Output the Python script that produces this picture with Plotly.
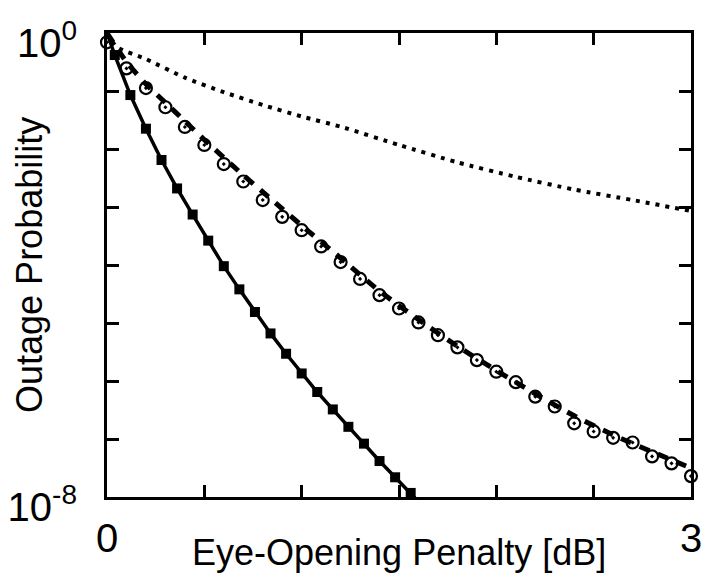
import plotly.graph_objects as go

# ---- data (log10 of outage probability) ----
sq_x = [0.04, 0.12, 0.20, 0.28, 0.36, 0.44, 0.52, 0.60, 0.68, 0.76,
        0.84, 0.92, 1.00, 1.08, 1.16, 1.24, 1.32, 1.40, 1.48, 1.56]
sq_log = [-0.38, -1.07, -1.65, -2.19, -2.68, -3.13, -3.58, -4.02, -4.42, -4.81,
          -5.18, -5.53, -5.87, -6.19, -6.49, -6.79, -7.08, -7.38, -7.66, -7.93]

solid_x = [0.0] + sq_x + [1.62]
solid_log = [0.0] + sq_log + [-8.15]

circ_x = [round(0.1 * i, 1) for i in range(31)]
circ_log = [-0.16, -0.61, -0.95, -1.28, -1.62, -1.93, -2.26, -2.56, -2.88, -3.17,
            -3.40, -3.68, -3.95, -4.24, -4.52, -4.75, -4.99, -5.21, -5.42, -5.64,
            -5.84, -6.02, -6.27, -6.44, -6.73, -6.87, -6.98, -7.06, -7.30, -7.42,
            -7.64]

dash_x = [0.0, 0.1, 0.2, 0.3, 0.4, 0.5, 0.6, 0.7, 0.8, 0.9, 1.0, 1.2, 1.4, 1.6,
          1.8, 2.0, 2.2, 2.4, 2.6, 2.8, 3.0]
dash_log = [0.0, -0.50, -0.88, -1.20, -1.52, -1.84, -2.15, -2.45, -2.74, -3.03,
            -3.32, -3.88, -4.45, -4.94, -5.40, -5.82, -6.22, -6.60, -6.93, -7.22,
            -7.50]

dot_x = [0.0, 0.05, 0.2, 0.4, 0.6, 0.8, 1.0, 1.2, 1.5, 1.8, 2.1, 2.4, 2.7, 3.0]
dot_log = [0.0, -0.24, -0.45, -0.77, -1.02, -1.24, -1.44, -1.615, -1.93, -2.23,
           -2.48, -2.70, -2.88, -3.07]

y_tickvals_log = [0, -1, -2, -3, -4, -5, -6, -7, -8]
y_ticktext = ["10<sup>0</sup>", "", "", "", "", "", "", "", "10<sup>-8</sup>"]
x_tickvals = [0, 0.5, 1.0, 1.5, 2.0, 2.5, 3.0]
x_ticktext = ["0", "", "", "", "", "", "3"]

x_title = "Eye-Opening Penalty [dB]"
y_title = "Outage Probability"

p = lambda arr: [10 ** v for v in arr]

FONT = "Liberation Sans, Arial, Helvetica, sans-serif"

fig = go.Figure()

fig.add_trace(go.Scatter(x=dot_x, y=p(dot_log), mode="lines",
                         line=dict(color="black", width=4, dash="4px,6px",
                                   shape="spline", smoothing=0.6),
                         showlegend=False))
fig.add_trace(go.Scatter(x=circ_x, y=p(circ_log), mode="markers",
                         marker=dict(symbol="circle-open-dot", size=12, color="black",
                                     line=dict(width=2.2, color="black")),
                         cliponaxis=False, showlegend=False))
fig.add_trace(go.Scatter(x=dash_x, y=p(dash_log), mode="lines",
                         line=dict(color="black", width=5, dash="11px,9px",
                                   shape="spline", smoothing=0.6),
                         showlegend=False))
fig.add_trace(go.Scatter(x=solid_x, y=p(solid_log), mode="lines",
                         line=dict(color="black", width=3.5),
                         showlegend=False))
fig.add_trace(go.Scatter(x=sq_x, y=p(sq_log), mode="markers",
                         marker=dict(symbol="square", size=10, color="black"),
                         cliponaxis=False, showlegend=False))

axis_common = dict(showline=True, linecolor="black", linewidth=3, mirror="allticks",
                   ticks="inside", ticklen=12, tickwidth=3, tickcolor="black",
                   showgrid=False, zeroline=False, automargin=False,
                   tickfont=dict(family=FONT, size=40, color="black"))

fig.update_xaxes(range=[0, 3], tickvals=x_tickvals, ticktext=x_ticktext,
                 ticklabelstandoff=4, **axis_common)
fig.update_yaxes(type="log", range=[-8, 0], tickvals=p(y_tickvals_log), ticktext=y_ticktext,
                 ticklabelstandoff=19, ticklabelshift=10, **axis_common)

fig.add_annotation(text=x_title, xref="paper", yref="paper", x=0.5, y=-0.119,
                   xanchor="center", yanchor="middle", showarrow=False,
                   font=dict(family=FONT, size=36, color="black"))
fig.add_annotation(text=y_title, xref="paper", yref="paper", x=-0.1336, y=0.5,
                   xanchor="center", yanchor="middle", showarrow=False, textangle=-90,
                   font=dict(family=FONT, size=36, color="black"))

fig.update_layout(width=703, height=573, margin=dict(l=107, r=12, t=33, b=76),
                  paper_bgcolor="white", plot_bgcolor="white",
                  font=dict(family=FONT, color="black"))

fig.write_html("out.html")
